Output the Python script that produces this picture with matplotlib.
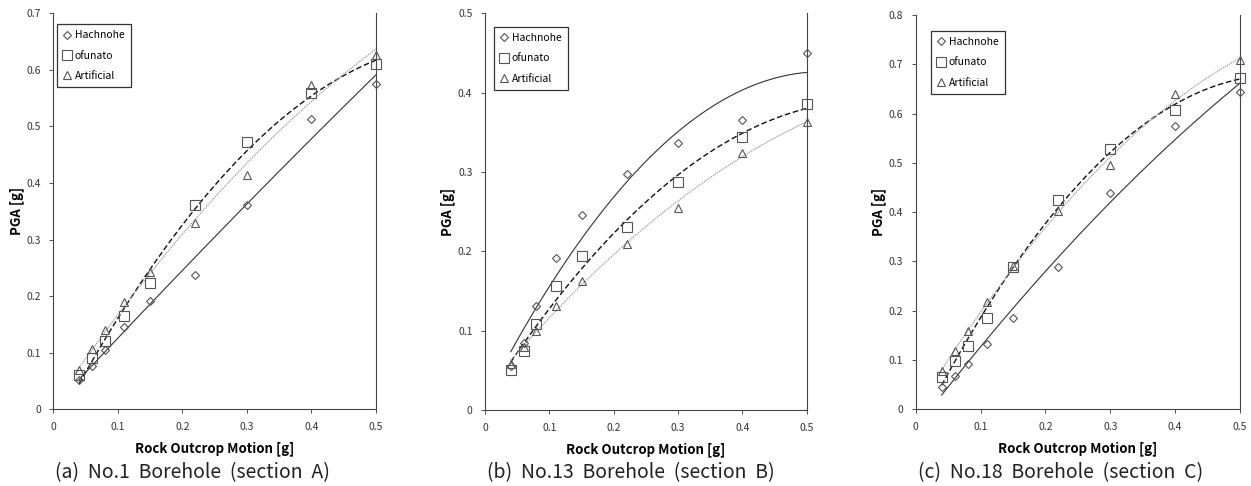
import numpy as np
import matplotlib
matplotlib.use("Agg")
import matplotlib.pyplot as plt

plt.rcParams['font.family'] = ['Noto Sans CJK KR', 'DejaVu Sans']

x_vals = [0.04, 0.06, 0.08, 0.11, 0.15, 0.22, 0.30, 0.40, 0.50]

# Panel (a) No.1 Borehole
a_hach = [0.052, 0.077, 0.105, 0.146, 0.191, 0.237, 0.361, 0.513, 0.575]
a_ofun = [0.061, 0.091, 0.121, 0.165, 0.223, 0.362, 0.472, 0.559, 0.610]
a_arti = [0.069, 0.106, 0.140, 0.189, 0.242, 0.330, 0.415, 0.573, 0.626]

# Panel (b) No.13 Borehole
b_hach = [0.055, 0.085, 0.131, 0.191, 0.246, 0.297, 0.336, 0.365, 0.450]
b_ofun = [0.050, 0.074, 0.109, 0.156, 0.194, 0.231, 0.287, 0.344, 0.386]
b_arti = [0.058, 0.080, 0.100, 0.131, 0.162, 0.209, 0.255, 0.324, 0.363]

# Panel (c) No.18 Borehole
c_hach = [0.046, 0.068, 0.092, 0.133, 0.186, 0.289, 0.439, 0.575, 0.643]
c_ofun = [0.066, 0.099, 0.128, 0.186, 0.289, 0.425, 0.528, 0.608, 0.673]
c_arti = [0.078, 0.119, 0.159, 0.218, 0.290, 0.403, 0.496, 0.639, 0.709]

series_names = ['Hachnohe', 'ofunato', 'Artificial']
captions = ['(a)  No.1  Borehole  (section  A)',
            '(b)  No.13  Borehole  (section  B)',
            '(c)  No.18  Borehole  (section  C)']
ymaxes = [0.7, 0.5, 0.8]
xlabel = 'Rock Outcrop Motion [g]'
ylabel = 'PGA [g]'

panels = [(a_hach, a_ofun, a_arti), (b_hach, b_ofun, b_arti), (c_hach, c_ofun, c_arti)]

W, H = 1251, 486
fig = plt.figure(figsize=(W / 100, H / 100), dpi=100)

axes_px = [(53.3, 376.0, 13.3, 409.3), (485.0, 806.7, 13.3, 410.0), (915.7, 1240.0, 15.0, 409.3)]
legend_anchor = [(0.011, 0.973), (0.028, 0.966), (0.047, 0.960)]

markers = ['D', 's', '^']
msizes = [4.2, 6.5, 6.0]
line_styles = [dict(color='#333333', ls='-', lw=0.8),
               dict(color='#111111', ls=(0, (4, 2)), lw=1.0),
               dict(color='#9a9a9a', ls=(0, (1, 0.8)), lw=0.9)]

for i, (data, ymax) in enumerate(zip(panels, ymaxes)):
    l, r, t, b = axes_px[i]
    ax = fig.add_axes([l / W, 1 - b / H, (r - l) / W, (b - t) / H])
    xs = np.array(x_vals)
    xf = np.linspace(xs.min(), xs.max(), 200)
    handles = []
    for j, ys in enumerate(data):
        coef = np.polyfit(xs, np.array(ys), 2)
        ax.plot(xf, np.polyval(coef, xf), **line_styles[j], zorder=2)
        h, = ax.plot(xs, ys, linestyle='none', marker=markers[j], ms=msizes[j],
                     mfc='none', mec='#555555', mew=0.8, clip_on=False, zorder=3,
                     label=series_names[j])
        handles.append(h)
    xt = np.round(np.arange(0, 0.51, 0.1), 1)
    yt = np.round(np.arange(0, ymax + 0.001, 0.1), 1)
    ax.set_xlim(0, 0.5)
    ax.set_ylim(0, ymax)
    ax.set_xticks(xt)
    ax.set_yticks(yt)
    ax.set_xticklabels(['0' if v == 0 else f'{v:g}' for v in xt])
    ax.set_yticklabels(['0' if v == 0 else f'{v:g}' for v in yt])
    ax.tick_params(direction='out', length=3, width=0.6, labelsize=7.5, colors='#333333', pad=6)
    for s in ['left', 'bottom', 'right']:
        ax.spines[s].set_linewidth(0.8)
        ax.spines[s].set_color('#444444')
    ax.spines['top'].set_visible(False)
    ax.tick_params(axis='y', right=False)
    ax.set_xlabel(xlabel, fontsize=9.5, fontweight='bold', labelpad=7)
    ax.set_ylabel(ylabel, fontsize=9.5, fontweight='bold', labelpad=2)
    leg = ax.legend(handles=handles, loc='upper left', bbox_to_anchor=legend_anchor[i],
                    fontsize=7.5, frameon=True, fancybox=False, edgecolor='black',
                    handlelength=0.8, handletextpad=0.3, labelspacing=1.0,
                    borderpad=0.6, borderaxespad=0.0)
    leg.get_frame().set_linewidth(0.9)
    fig.text((l + 2) / W, 1 - 473 / H, captions[i], fontsize=14, ha='left', va='center',
             color='#222222')

fig.savefig('out.png', dpi=100)
